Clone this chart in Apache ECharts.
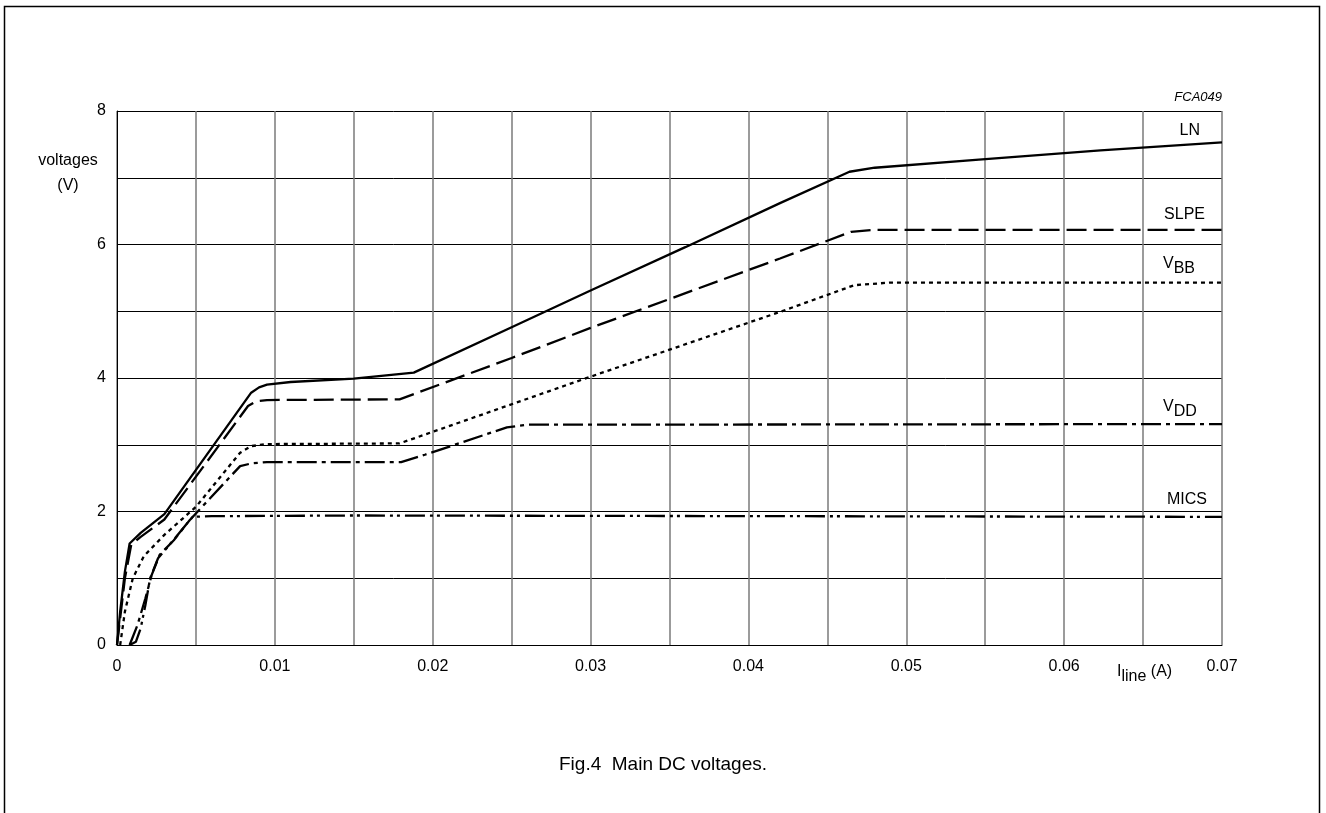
<!DOCTYPE html>
<html><head><meta charset="utf-8">
<script src="https://cdn.jsdelivr.net/npm/echarts@6/dist/echarts.min.js"></script>
<style>html,body{margin:0;padding:0;background:#fff}#c{width:1326px;height:813px}</style>
</head><body><div id="c"></div>
<script>
// I_line (A) vs voltage (V)
const lnData = [[0,0],[0.0002,0.5],[0.0005,1.1],[0.0008,1.52],[0.0015,1.68],[0.003,1.96],[0.0085,3.78],[0.009,3.86],[0.0095,3.9],[0.011,3.94],[0.015,3.99],[0.0188,4.08],[0.025,4.76],[0.03,5.31],[0.036,5.96],[0.042,6.62],[0.0464,7.09],[0.048,7.15],[0.0546,7.27],[0.0623,7.41],[0.07,7.53]];
const slpeData = [[0,0],[0.0002,0.4],[0.0005,1.0],[0.0009,1.5],[0.0015,1.62],[0.003,1.88],[0.0083,3.58],[0.0088,3.65],[0.0095,3.67],[0.0179,3.68],[0.025,4.3],[0.03,4.75],[0.042,5.79],[0.0465,6.19],[0.048,6.22],[0.07,6.22]];
const vbbData = [[0.0002,0],[0.0005,0.5],[0.001,1.0],[0.0017,1.33],[0.003,1.65],[0.005,2.07],[0.0078,2.88],[0.0085,2.98],[0.0095,3.01],[0.0179,3.02],[0.03,4.02],[0.042,4.99],[0.0467,5.39],[0.049,5.43],[0.07,5.43]];
const vddData = [[0.0008,0],[0.0013,0.3],[0.0018,0.7],[0.0022,1.05],[0.0027,1.35],[0.0036,1.57],[0.0046,1.87],[0.0078,2.68],[0.0085,2.72],[0.0095,2.74],[0.018,2.74],[0.0195,2.85],[0.0247,3.26],[0.026,3.3],[0.07,3.31]];
const micsData = [[0.0008,0],[0.0012,0.05],[0.0015,0.25],[0.0018,0.6],[0.0021,1.0],[0.0026,1.3],[0.0035,1.55],[0.0045,1.84],[0.0048,1.92],[0.006,1.93],[0.015,1.94],[0.07,1.92]];
const xTickLabels = ['0','0.01','0.02','0.03','0.04','0.05','0.06','0.07'];
const yTickLabels = ['0','2','4','6','8'];

const FONT = '"Liberation Sans", Arial, sans-serif';
const chart = echarts.init(document.getElementById('c'), null, {renderer:'canvas'});
function mk(name, data, type){
  return {name, type:'line', data, showSymbol:false, smooth:false, animation:false,
    lineStyle:{color:'#000', width:2.3, type:type}, z:5};
}
chart.setOption({
  backgroundColor:'#fff',
  animation:false,
  grid:{left:117, right:104, top:111, bottom:168, show:false},
  xAxis:{type:'value', min:0, max:0.07, interval:0.005,
    axisLine:{show:true, lineStyle:{color:'#000', width:1}},
    axisTick:{show:false},
    splitLine:{show:true, lineStyle:{color:'#7a7a7a', width:1.5}},
    axisLabel:{fontFamily:FONT, fontSize:16, color:'#000', margin:14, showMaxLabel:true, showMinLabel:true,
      formatter:function(v){const k=Math.round(v*1000); if(k%10!==0) return ''; return xTickLabels[k/10];}}
  },
  yAxis:{type:'value', min:0, max:8, interval:1,
    axisLine:{show:true, lineStyle:{color:'#000', width:1}},
    axisTick:{show:false},
    splitLine:{show:true, lineStyle:{color:'#000', width:1}},
    axisLabel:{fontFamily:FONT, fontSize:16, color:'#000', margin:11,
      formatter:function(v){return (Math.round(v)%2===0)? yTickLabels[Math.round(v)/2] : '';}}
  },
  series:[
    mk('LN', lnData, 'solid'),
    mk('SLPE', slpeData, [20,7]),
    mk('VBB', vbbData, [4,4]),
    mk('VDD', vddData, [20,5,4,5]),
    mk('MICS', micsData, [20,5,3,4,3,5])
  ],
  graphic:[
    {type:'rect', shape:{x:4.5, y:6.5, width:1315, height:900}, style:{fill:null, stroke:'#000', lineWidth:1.5}, silent:true},
    {type:'text', x:1222, y:97, style:{text:'FCA049', font:'italic 13px '+FONT, fill:'#000', align:'right', verticalAlign:'middle'}},
    {type:'text', x:68, y:161, style:{text:'voltages', font:'16px '+FONT, fill:'#000', align:'center', verticalAlign:'middle'}},
    {type:'text', x:68, y:186, style:{text:'(V)', font:'16px '+FONT, fill:'#000', align:'center', verticalAlign:'middle'}},
    {type:'text', x:1200, y:131, style:{text:'LN', font:'16px '+FONT, fill:'#000', align:'right', verticalAlign:'middle'}},
    {type:'text', x:1205, y:215, style:{text:'SLPE', font:'16px '+FONT, fill:'#000', align:'right', verticalAlign:'middle'}},
    {type:'text', x:1163, y:264, style:{text:'{n|V}{s|BB}', align:'left', verticalAlign:'middle',
      rich:{n:{font:'16px '+FONT, fill:'#000'}, s:{font:'16px '+FONT, fill:'#000', padding:[10,0,0,0]}}}},
    {type:'text', x:1163, y:407, style:{text:'{n|V}{s|DD}', align:'left', verticalAlign:'middle',
      rich:{n:{font:'16px '+FONT, fill:'#000'}, s:{font:'16px '+FONT, fill:'#000', padding:[10,0,0,0]}}}},
    {type:'text', x:1207, y:500, style:{text:'MICS', font:'16px '+FONT, fill:'#000', align:'right', verticalAlign:'middle'}},
    {type:'text', x:1117, y:672, style:{text:'{n|I}{s|line}{n| (A)}', align:'left', verticalAlign:'middle',
      rich:{n:{font:'16px '+FONT, fill:'#000'}, s:{font:'16px '+FONT, fill:'#000', padding:[10,0,0,0]}}}},
    {type:'text', x:663, y:765, style:{text:'Fig.4  Main DC voltages.', font:'19px '+FONT, fill:'#000', align:'center', verticalAlign:'middle'}}
  ]
});
</script></body></html>
